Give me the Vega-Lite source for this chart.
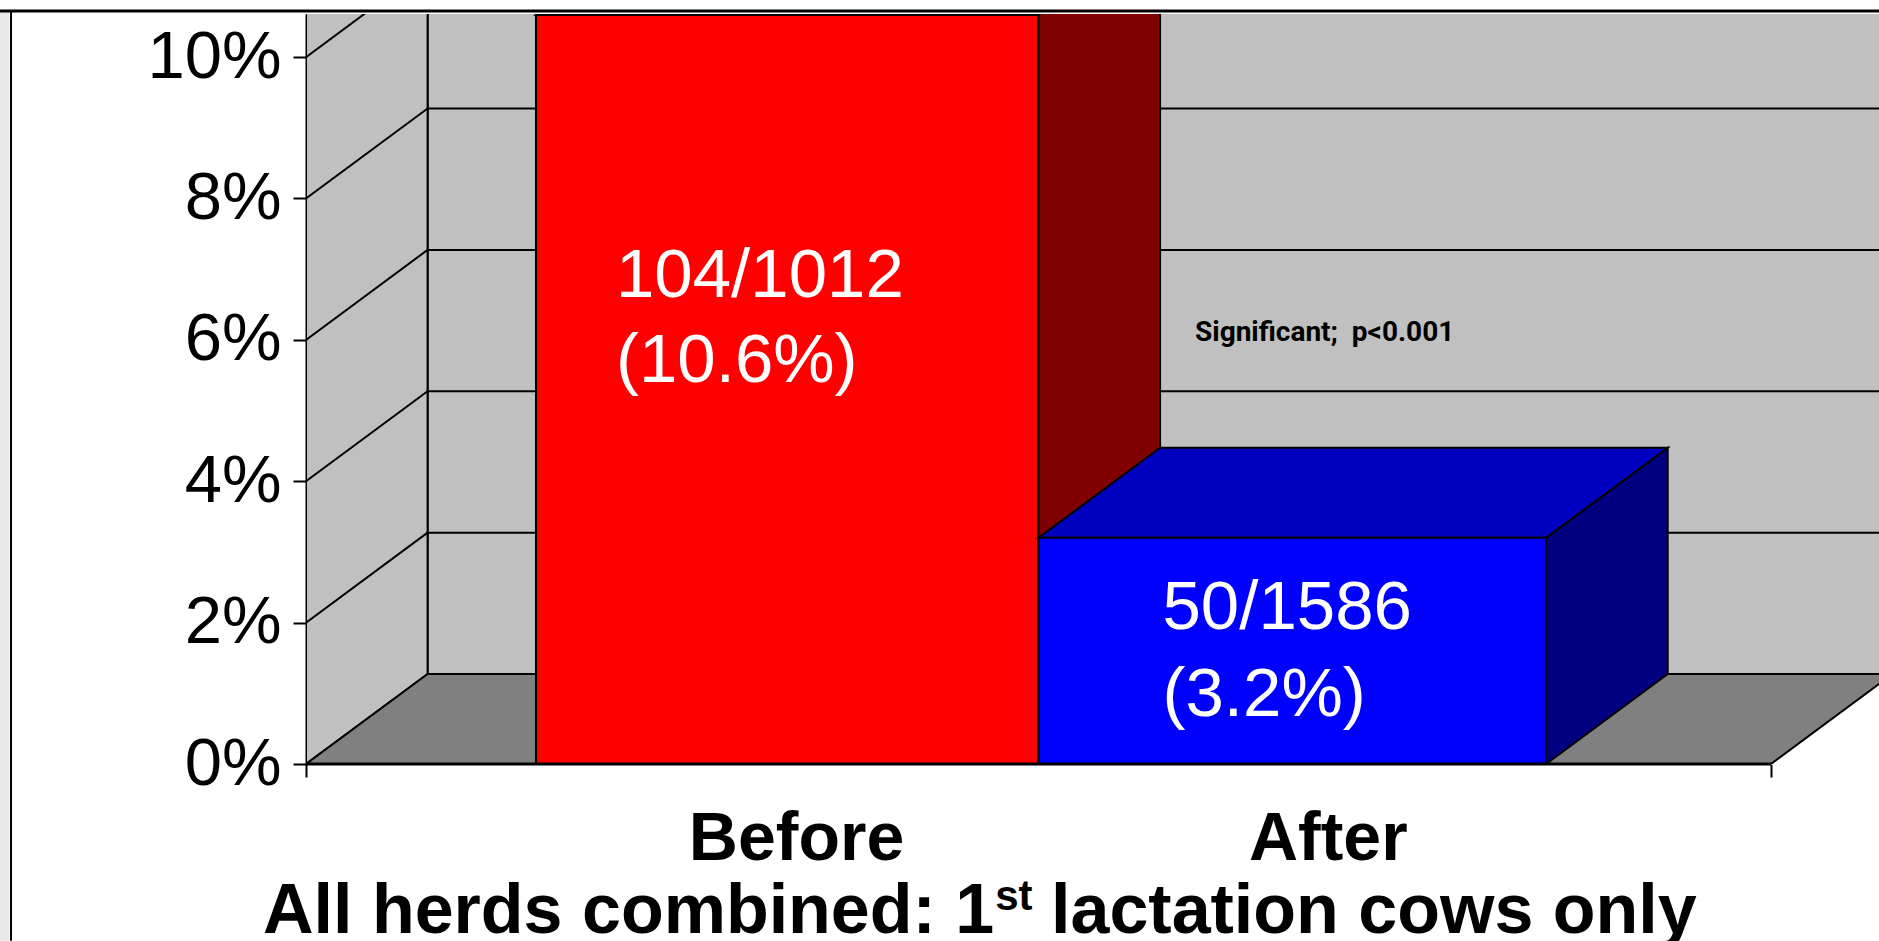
{
  "$schema": "https://vega.github.io/schema/vega-lite/v6.json",
  "autosize": "none",
  "width": 1573,
  "height": 750,
  "padding": {"left": 306, "top": 14, "right": 0, "bottom": 177},
  "background": "white",
  "config": {"view": {"stroke": null}},
  "datasets": {
    "wall": [{"x": 0.166, "x2": 2.3, "y": 1.273, "y2": 12}],
    "sides": [
      {"face": "wall", "x": 0, "lo": 0, "hi": 12},
      {"face": "wall", "x": 0.166, "lo": 1.273, "hi": 12},
      {"face": "Before", "x": 1.0, "lo": 0, "hi": 10.6},
      {"face": "Before", "x": 1.166, "lo": 1.273, "hi": 11.873},
      {"face": "After", "x": 1.693, "lo": 0, "hi": 3.2},
      {"face": "After", "x": 1.859, "lo": 1.273, "hi": 4.473}
    ],
    "tops": [
      {"face": "floor", "y": 0, "left": 0, "right": 2},
      {"face": "floor", "y": 1.273, "left": 0.166, "right": 2.166},
      {"face": "Before", "y": 10.6, "left": 0.314, "right": 1.0},
      {"face": "Before", "y": 11.873, "left": 0.48, "right": 1.166},
      {"face": "After", "y": 3.2, "left": 1.0, "right": 1.693},
      {"face": "After", "y": 4.473, "left": 1.166, "right": 1.859}
    ],
    "bars": [
      {"period": "Before", "rate": 10.6, "cases": 104, "total": 1012, "x0": 0.314, "x1": 1.0},
      {"period": "After", "rate": 3.2, "cases": 50, "total": 1586, "x0": 1.0, "x1": 1.693}
    ],
    "grid": [
      {"x": 0.166, "x2": 2.3, "y": 3.273, "y2": 3.273},
      {"x": 0.166, "x2": 2.3, "y": 5.273, "y2": 5.273},
      {"x": 0.166, "x2": 2.3, "y": 7.273, "y2": 7.273},
      {"x": 0.166, "x2": 2.3, "y": 9.273, "y2": 9.273},
      {"x": 0, "x2": 0.166, "y": 2, "y2": 3.273},
      {"x": 0, "x2": 0.166, "y": 4, "y2": 5.273},
      {"x": 0, "x2": 0.166, "y": 6, "y2": 7.273},
      {"x": 0, "x2": 0.166, "y": 8, "y2": 9.273},
      {"x": 0, "x2": 0.166, "y": 10, "y2": 11.273}
    ],
    "base": [{"x": 0, "x2": 2, "y": 0, "y2": 0}],
    "notes": [
      {"text": "104/1012", "x": 0.4232, "y": 6.613},
      {"text": "(10.6%)", "x": 0.4232, "y": 5.411},
      {"text": "50/1586", "x": 1.1693, "y": 1.903},
      {"text": "(3.2%)", "x": 1.1693, "y": 0.676}
    ],
    "sig": [{"text": "Significant; \u00a0p<0.001", "x": 1.2137, "y": 5.977}],
    "title": [
      {"text": "All herds combined: 1", "x": -0.0587, "y": -2.384},
      {"text": "lactation cows only", "x": 1.0171, "y": -2.384}
    ],
    "sup": [{"text": "st", "x": 0.941, "y": -2.072}],
    "frame": [
      {"x": -0.418, "x2": 2.1475, "y": 10.652, "y2": 10.652, "w": 3},
      {"x": -0.4027, "x2": -0.4027, "y": 10.652, "y2": -2.5, "w": 2}
    ],
    "strip": [{"x": -0.418, "x2": -0.4048, "y": 10.652, "y2": -2.5}]
  },
  "layer": [
    {
      "data": {"name": "wall"},
      "mark": {"type": "rect", "fill": "#c0c0c0", "stroke": "black", "strokeWidth": 2, "clip": true},
      "encoding": {
        "x": {"field": "x", "type": "quantitative", "title": null,
          "scale": {"domain": [0, 2.1475], "nice": false, "zero": false},
          "axis": {
            "values": [0, 0.669, 1.395, 2],
            "labelExpr": "datum.value == 0.669 ? 'Before' : (datum.value == 1.395 ? 'After' : '')",
            "title": null, "grid": false, "domain": false,
            "ticks": true, "tickSize": 13, "tickWidth": 2, "tickColor": "black",
            "tickOpacity": {"condition": {"test": "datum.value == 0 || datum.value == 2", "value": 1}, "value": 0},
            "labelFont": "Liberation Sans", "labelFontWeight": "bold", "labelFontSize": 68, "labelColor": "black",
            "labelBaseline": "alphabetic", "labelPadding": 82, "labelLimit": 0,
            "labelFlush": false, "labelOverlap": false, "labelBound": false
          }},
        "x2": {"field": "x2"},
        "y": {"field": "y", "type": "quantitative", "title": null,
          "scale": {"domain": [0, 10.61], "nice": false, "zero": false},
          "axis": {
            "values": [0, 2, 4, 6, 8, 10],
            "labelExpr": "datum.value + '%'",
            "title": null, "grid": false,
            "domain": true, "domainColor": "black", "domainWidth": 2,
            "ticks": true, "tickSize": 13, "tickWidth": 2, "tickColor": "black",
            "labelFont": "Liberation Sans", "labelFontSize": 67, "labelColor": "black",
            "labelPadding": 12, "labelLimit": 0, "labelFlush": false, "labelOverlap": false, "labelBound": false
          }},
        "y2": {"field": "y2"}
      }
    },
    {
      "data": {"name": "sides"},
      "transform": [{"filter": "datum.face == 'wall'"}],
      "mark": {"type": "area", "fill": "#c0c0c0", "stroke": "black", "strokeWidth": 2, "clip": true},
      "encoding": {
        "x": {"field": "x", "type": "quantitative", "title": null, "scale": {"domain": [0, 2.1475], "nice": false, "zero": false}},
        "y": {"field": "lo", "type": "quantitative", "title": null, "scale": {"domain": [0, 10.61], "nice": false, "zero": false}},
        "y2": {"field": "hi"}
      }
    },
    {
      "data": {"name": "grid"},
      "mark": {"type": "rule", "color": "black", "strokeWidth": 2, "clip": true},
      "encoding": {
        "x": {"field": "x", "type": "quantitative", "title": null, "scale": {"domain": [0, 2.1475], "nice": false, "zero": false}},
        "x2": {"field": "x2"},
        "y": {"field": "y", "type": "quantitative", "title": null, "scale": {"domain": [0, 10.61], "nice": false, "zero": false}},
        "y2": {"field": "y2"}
      }
    },
    {
      "data": {"name": "tops"},
      "transform": [{"filter": "datum.face == 'floor'"}],
      "mark": {"type": "area", "orient": "horizontal", "fill": "#808080", "stroke": "black", "strokeWidth": 2, "clip": true},
      "encoding": {
        "y": {"field": "y", "type": "quantitative", "title": null, "scale": {"domain": [0, 10.61], "nice": false, "zero": false}},
        "x": {"field": "left", "type": "quantitative", "title": null, "scale": {"domain": [0, 2.1475], "nice": false, "zero": false}},
        "x2": {"field": "right"}
      }
    },
    {
      "data": {"name": "bars"},
      "transform": [{"filter": "datum.period == 'Before'"}],
      "mark": {"type": "rect", "fill": "#ff0000", "stroke": "black", "strokeWidth": 2, "clip": true},
      "encoding": {
        "x": {"field": "x0", "type": "quantitative", "title": null, "scale": {"domain": [0, 2.1475], "nice": false, "zero": false}},
        "x2": {"field": "x1"},
        "y": {"field": "rate", "type": "quantitative", "title": null, "scale": {"domain": [0, 10.61], "nice": false, "zero": false}},
        "y2": {"datum": 0}
      }
    },
    {
      "data": {"name": "sides"},
      "transform": [{"filter": "datum.face == 'Before'"}],
      "mark": {"type": "area", "fill": "#800000", "stroke": "black", "strokeWidth": 2, "clip": true},
      "encoding": {
        "x": {"field": "x", "type": "quantitative", "title": null, "scale": {"domain": [0, 2.1475], "nice": false, "zero": false}},
        "y": {"field": "lo", "type": "quantitative", "title": null, "scale": {"domain": [0, 10.61], "nice": false, "zero": false}},
        "y2": {"field": "hi"}
      }
    },
    {
      "data": {"name": "tops"},
      "transform": [{"filter": "datum.face == 'Before'"}],
      "mark": {"type": "area", "orient": "horizontal", "fill": "#c00000", "stroke": "black", "strokeWidth": 2, "clip": true},
      "encoding": {
        "y": {"field": "y", "type": "quantitative", "title": null, "scale": {"domain": [0, 10.61], "nice": false, "zero": false}},
        "x": {"field": "left", "type": "quantitative", "title": null, "scale": {"domain": [0, 2.1475], "nice": false, "zero": false}},
        "x2": {"field": "right"}
      }
    },
    {
      "data": {"name": "sides"},
      "transform": [{"filter": "datum.face == 'After'"}],
      "mark": {"type": "area", "fill": "#000080", "stroke": "black", "strokeWidth": 2, "clip": true},
      "encoding": {
        "x": {"field": "x", "type": "quantitative", "title": null, "scale": {"domain": [0, 2.1475], "nice": false, "zero": false}},
        "y": {"field": "lo", "type": "quantitative", "title": null, "scale": {"domain": [0, 10.61], "nice": false, "zero": false}},
        "y2": {"field": "hi"}
      }
    },
    {
      "data": {"name": "tops"},
      "transform": [{"filter": "datum.face == 'After'"}],
      "mark": {"type": "area", "orient": "horizontal", "fill": "#0000c0", "stroke": "black", "strokeWidth": 2, "clip": true},
      "encoding": {
        "y": {"field": "y", "type": "quantitative", "title": null, "scale": {"domain": [0, 10.61], "nice": false, "zero": false}},
        "x": {"field": "left", "type": "quantitative", "title": null, "scale": {"domain": [0, 2.1475], "nice": false, "zero": false}},
        "x2": {"field": "right"}
      }
    },
    {
      "data": {"name": "bars"},
      "transform": [{"filter": "datum.period == 'After'"}],
      "mark": {"type": "rect", "fill": "#0000ff", "stroke": "black", "strokeWidth": 2, "clip": true},
      "encoding": {
        "x": {"field": "x0", "type": "quantitative", "title": null, "scale": {"domain": [0, 2.1475], "nice": false, "zero": false}},
        "x2": {"field": "x1"},
        "y": {"field": "rate", "type": "quantitative", "title": null, "scale": {"domain": [0, 10.61], "nice": false, "zero": false}},
        "y2": {"datum": 0}
      }
    },
    {
      "data": {"name": "base"},
      "mark": {"type": "rule", "color": "black", "strokeWidth": 3, "clip": false},
      "encoding": {
        "x": {"field": "x", "type": "quantitative", "title": null, "scale": {"domain": [0, 2.1475], "nice": false, "zero": false}},
        "x2": {"field": "x2"},
        "y": {"field": "y", "type": "quantitative", "title": null, "scale": {"domain": [0, 10.61], "nice": false, "zero": false}},
        "y2": {"field": "y2"}
      }
    },
    {
      "data": {"name": "notes"},
      "mark": {"type": "text", "align": "left", "baseline": "alphabetic", "font": "Liberation Sans", "fontSize": 69, "color": "white"},
      "encoding": {
        "x": {"field": "x", "type": "quantitative", "title": null, "scale": {"domain": [0, 2.1475], "nice": false, "zero": false}},
        "y": {"field": "y", "type": "quantitative", "title": null, "scale": {"domain": [0, 10.61], "nice": false, "zero": false}},
        "text": {"field": "text"}
      }
    },
    {
      "data": {"name": "sig"},
      "mark": {"type": "text", "align": "left", "baseline": "alphabetic", "font": "Roboto", "fontWeight": "bold", "fontSize": 28, "color": "black"},
      "encoding": {
        "x": {"field": "x", "type": "quantitative", "title": null, "scale": {"domain": [0, 2.1475], "nice": false, "zero": false}},
        "y": {"field": "y", "type": "quantitative", "title": null, "scale": {"domain": [0, 10.61], "nice": false, "zero": false}},
        "text": {"field": "text"}
      }
    },
    {
      "data": {"name": "title"},
      "mark": {"type": "text", "align": "left", "baseline": "alphabetic", "font": "Liberation Sans", "fontWeight": "bold", "fontSize": 70, "color": "black", "clip": false},
      "encoding": {
        "x": {"field": "x", "type": "quantitative", "title": null, "scale": {"domain": [0, 2.1475], "nice": false, "zero": false}},
        "y": {"field": "y", "type": "quantitative", "title": null, "scale": {"domain": [0, 10.61], "nice": false, "zero": false}},
        "text": {"field": "text"}
      }
    },
    {
      "data": {"name": "sup"},
      "mark": {"type": "text", "align": "left", "baseline": "alphabetic", "font": "Liberation Sans", "fontWeight": "bold", "fontSize": 42, "color": "black", "clip": false},
      "encoding": {
        "x": {"field": "x", "type": "quantitative", "title": null, "scale": {"domain": [0, 2.1475], "nice": false, "zero": false}},
        "y": {"field": "y", "type": "quantitative", "title": null, "scale": {"domain": [0, 10.61], "nice": false, "zero": false}},
        "text": {"field": "text"}
      }
    },
    {
      "data": {"name": "strip"},
      "mark": {"type": "rect", "fill": "#e8e8e8", "clip": false},
      "encoding": {
        "x": {"field": "x", "type": "quantitative", "title": null, "scale": {"domain": [0, 2.1475], "nice": false, "zero": false}},
        "x2": {"field": "x2"},
        "y": {"field": "y", "type": "quantitative", "title": null, "scale": {"domain": [0, 10.61], "nice": false, "zero": false}},
        "y2": {"field": "y2"}
      }
    },
    {
      "data": {"name": "frame"},
      "mark": {"type": "rule", "color": "black", "clip": false},
      "encoding": {
        "x": {"field": "x", "type": "quantitative", "title": null, "scale": {"domain": [0, 2.1475], "nice": false, "zero": false}},
        "x2": {"field": "x2"},
        "y": {"field": "y", "type": "quantitative", "title": null, "scale": {"domain": [0, 10.61], "nice": false, "zero": false}},
        "y2": {"field": "y2"},
        "strokeWidth": {"field": "w", "type": "quantitative", "scale": null, "legend": null}
      }
    }
  ]
}
